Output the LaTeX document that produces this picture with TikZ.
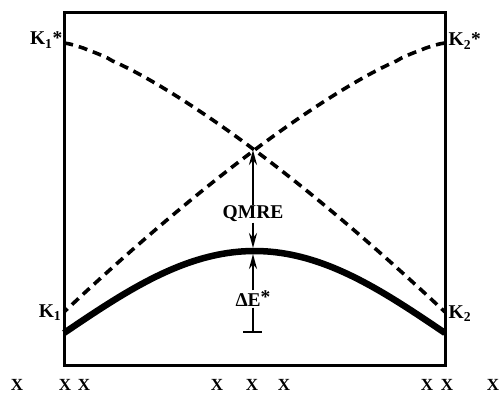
\documentclass[tikz,border=0pt]{standalone}
\usepackage{fontspec}
\setmainfont{Liberation Serif}
\usetikzlibrary{arrows.meta}
\begin{document}
\begin{tikzpicture}[x=1pt,y=-1pt,
  lbl/.style={font=\fontsize{19.5}{21}\selectfont\bfseries, inner sep=0.5pt},
  xlbl/.style={font=\fontsize{17}{19}\selectfont\bfseries, inner sep=0pt},
  frame/.style={line width=3pt},
  dashcurve/.style={line width=3.6pt, dash pattern=on 9pt off 6pt},
  solidcurve/.style={line width=6.5pt},
  shaft/.style={line width=2.2pt},
  arr/.style={shaft,-{Stealth[length=15pt,width=8pt]}}]
\useasboundingbox (0,0) rectangle (503,393);
\coordinate (TL) at (64,13);
\coordinate (BR) at (445,365);
\draw[frame] (TL) rectangle (BR);
% dashed curves
\draw[dashcurve] plot[domain=0.0005:1, samples=80] ({64+381*\x}, {43+269*(\x)^1.33});
\draw[dashcurve] plot[domain=0.0005:1, samples=80] ({445-381*\x}, {43+269*(\x)^1.33});
% solid curve
\draw[solidcurve] plot[domain=-1:1, samples=80] ({254.5+190.5*\x}, {251+82*(1-cos(90*\x))});
% key points
\coordinate (X) at (253,150);
\coordinate (Ptop) at (253,248);
\coordinate (Pbot) at (253,254);
\coordinate (Bc) at (253,332);
\coordinate (Bl) at (243,332);
\coordinate (Br) at (262,332);
% QMRE
\node[lbl] (q) at (253,214) {QMRE};
\draw[arr] (q.north) -- (X);
\draw[arr] (q.south) -- (Ptop);
% Delta E*
\node[lbl] (de) at (253,299) {ΔE\raisebox{3pt}{*}};
\draw[arr] (de.north) -- (Pbot);
\draw[shaft] (de.south) -- (Bc);
\draw[line width=2.8pt] (Bl) -- (Br);
% K labels
\node[lbl, anchor=base east] (k1s) at (63,45) {K\textsubscript{1}*};
\node[lbl, anchor=base west] (k2s) at (448,46) {K\textsubscript{2}*};
\node[lbl, anchor=base east] (k1) at (62,317) {K\textsubscript{1}};
\node[lbl, anchor=base west] (k2) at (448,318) {K\textsubscript{2}};
% X labels
\foreach \i/\xx in {1/17,2/65,3/84,4/217,5/252,6/284,7/427,8/447,9/493}
  \node[xlbl] (x\i) at (\xx,384.5) {X};
\end{tikzpicture}
\end{document}
